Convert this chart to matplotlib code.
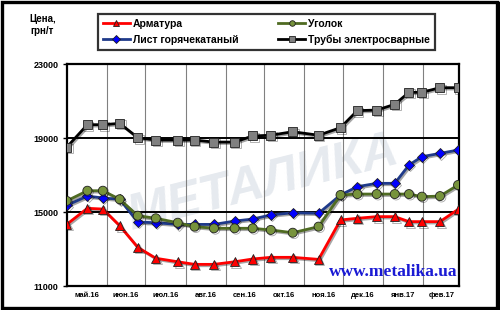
import numpy as np
import pandas as pd
import matplotlib
matplotlib.use("Agg")
import matplotlib.pyplot as plt
import matplotlib.dates as mdates
import matplotlib.patheffects as pe
from matplotlib.patches import Rectangle

# weekly price dates (approximate)
dates = pd.to_datetime([
    "2016-05-01", "2016-05-17", "2016-05-29", "2016-06-11", "2016-06-25",
    "2016-07-09", "2016-07-26", "2016-08-08", "2016-08-23", "2016-09-08",
    "2016-09-22", "2016-10-06", "2016-10-23", "2016-11-12", "2016-11-29",
    "2016-12-12", "2016-12-27", "2017-01-10", "2017-01-21", "2017-01-31",
    "2017-02-14", "2017-02-28",
])

armatura = [14330, 15200, 15160, 14260, 13090, 12500, 12310, 12170, 12170, 12310,
            12460, 12550, 12550, 12440, 14570, 14660, 14750, 14750, 14480, 14480,
            14480, 15140]
list_gk = [15360, 15860, 15760, 15690, 14460, 14420, 14330, 14330, 14330, 14510,
           14620, 14840, 14960, 14930, 15920, 16370, 16550, 16550, 17540, 17990,
           18170, 18350]
ugolok = [15600, 16150, 16150, 15690, 14800, 14660, 14420, 14210, 14120, 14120,
          14120, 14030, 13880, 14210, 15920, 15970, 15970, 15970, 15970, 15830,
          15860, 16460]
truby = [18500, 19720, 19720, 19790, 19020, 18890, 18890, 18890, 18780, 18780,
         19110, 19150, 19340, 19150, 19560, 20480, 20510, 20820, 21470, 21470,
         21720, 21720]

month_labels = ["май.16", "июн.16", "июл.16", "авг.16", "сен.16",
                "окт.16", "ноя.16", "дек.16", "янв.17", "фев.17"]
y_ticks = [11000, 15000, 19000, 23000]

plt.rcParams["font.family"] = ["Liberation Sans", "DejaVu Sans"]

fig = plt.figure(figsize=(5, 3.1), dpi=100)
fig.patch.set_facecolor("white")
ax = fig.add_axes([0.1334, 0.0774, 0.7853, 0.7161])

shadow = [pe.SimpleLineShadow(offset=(1.0, -1.0), shadow_color="black", alpha=0.35), pe.Normal()]

series = [
    ("Арматура", armatura, "#ff0000", "^", "#ff0000", 6.5),
    ("Лист горячекатаный", list_gk, "#1f3a8a", "D", "#0000ff", 5),
    ("Уголок", ugolok, "#4f6b22", "o", "#77933c", 6.5),
    ("Трубы электросварные", truby, "#000000", "s", "#808080", 6.5),
]

handles = []
for name, vals, lc, mk, mfc, ms in series:
    h, = ax.plot(dates, vals, color=lc, lw=2.0, marker=mk, markersize=ms,
                 markerfacecolor=mfc, markeredgecolor="#202020", markeredgewidth=0.6,
                 label=name, zorder=4, path_effects=shadow)
    handles.append(h)

ax.set_xlim(pd.Timestamp("2016-05-01"), pd.Timestamp("2017-03-01"))
ax.set_ylim(11000, 23000)

# vertical grid at month boundaries, labels at mid-month
month_starts = pd.date_range("2016-05-01", "2017-03-01", freq="MS")
for d in month_starts[1:-1]:
    ax.axvline(d, color="#808080", lw=0.8, zorder=1)
mids = [s + (e - s) / 2 for s, e in zip(month_starts[:-1], month_starts[1:])]
ax.set_xticks(mids)
ax.set_xticklabels(month_labels, fontsize=5.5, fontweight="bold")
ax.tick_params(axis="x", length=0, pad=4)

ax.set_yticks(y_ticks)
ax.set_yticklabels([str(v) for v in y_ticks], fontsize=6.5, fontweight="bold")
ax.tick_params(axis="y", length=3, width=1, pad=3)
for v in y_ticks[1:-1]:
    ax.axhline(v, color="black", lw=1.4, zorder=2)

for sp in ax.spines.values():
    sp.set_linewidth(1.6)

# watermark
ax.text(0.5, 0.46, "МЕТАЛИКА", transform=ax.transAxes, fontsize=36,
        fontweight="bold", style="italic", color="#e6eaef", rotation=14,
        ha="center", va="center", zorder=0)

ax.text(0.995, 0.025, "www.metalika.ua", transform=ax.transAxes, fontsize=12.5,
        fontweight="bold", family="Liberation Serif", color="#1a1ad4",
        ha="right", va="bottom", zorder=5)

fig.text(0.085, 0.955, "Цена,\nгрн/т", fontsize=7, fontweight="bold",
         ha="center", va="top", linespacing=1.3)

leg = fig.legend(handles=handles, ncol=2, loc="center",
                 bbox_to_anchor=(0.533, 0.897),
                 prop={"weight": "bold", "size": 7.5},
                 frameon=True, fancybox=False, handlelength=2.6,
                 handletextpad=0.3, columnspacing=3.8, borderpad=0.45,
                 labelspacing=0.55, edgecolor="black")
leg.get_frame().set_linewidth(1.6)
for lh in leg.legend_handles:
    lh.set_markersize(4)
    lh.set_path_effects([])

# outer frame with a heavier right/bottom edge
fig.patches.append(Rectangle((0.003, 0.005), 0.99, 0.99, transform=fig.transFigure,
                             fill=False, edgecolor="black", lw=2.4))
fig.lines.append(plt.Line2D([0.995, 0.995], [0.0, 0.99], transform=fig.transFigure,
                            color="black", lw=2.5))
fig.lines.append(plt.Line2D([0.01, 1.0], [0.004, 0.004], transform=fig.transFigure,
                            color="black", lw=2.5))

fig.savefig("out.png", dpi=100)
